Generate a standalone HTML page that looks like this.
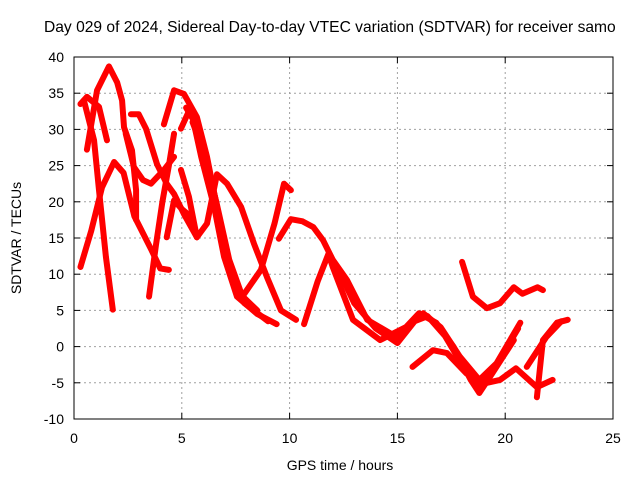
<!DOCTYPE html>
<html><head><meta charset="utf-8"><style>
body{margin:0;background:#fff}
svg{display:block;font-family:"Liberation Sans",sans-serif}
</style></head><body>
<svg id="chart" width="640" height="480" viewBox="0 0 640 480">
<text x="44" y="32" font-size="15.6" text-anchor="start">Day 029 of 2024, Sidereal Day-to-day VTEC variation (SDTVAR) for receiver samo</text>
<text x="340" y="470" font-size="14" text-anchor="middle">GPS time / hours</text>
<text x="0" y="0" font-size="14" text-anchor="middle" transform="translate(21,238) rotate(-90)">SDTVAR / TECUs</text>
<g id="grid"></g><g id="series"></g><g id="axes"></g>
</svg>
<script>
const xTicks=[0,5,10,15,20,25];
const yTicks=[-10,-5,0,5,10,15,20,25,30,35,40];
const s0=[[0.3,11],[0.8,16],[1.3,22],[1.86,25.5],[2.3,24],[2.8,18],[3.6,13.3],[4.0,10.8],[4.4,10.6]];
const s1=[[0.46,34],[0.93,28.5],[1.16,21.6],[1.48,12.4],[1.8,5.1]];
const s2=[[0.3,33.5],[0.6,34.5],[1.16,33.1],[1.53,28.5]];
const s3=[[0.6,27.2],[1.07,35.4],[1.62,38.7],[2.0,36.5],[2.23,34],[2.32,30.3],[2.69,27.1],[2.88,21.6],[2.88,17.5]];
const s4=[[2.64,32.1],[3.0,32.1],[3.34,30.1],[3.85,25.2],[4.3,22.5],[4.64,21.1],[5.1,18.3],[5.7,15.1]];
const s5=[[2.4,29.4],[2.78,24.8],[3.2,23],[3.57,22.5],[4.17,24.4],[4.64,26.2]];
const s6=[[3.48,6.9],[3.8,14],[4.1,20],[4.4,25],[4.64,29.4]];
const s7=[[4.3,15.1],[4.64,20.2],[5.0,19],[5.4,18],[5.7,15.1]];
const s8=[[4.17,30.7],[4.64,35.4],[5.1,34.9],[5.7,31.7],[6.17,26.2],[6.63,19.3],[7.1,12.4],[7.56,7.8],[8.35,5.1]];
const s9=[[4.96,30.1],[5.4,33],[5.9,26.2],[6.5,19.3],[6.96,12.4],[7.56,6.9],[8.5,4.5],[9.4,3.1]];
const s10=[[4.96,24.4],[5.33,20.7],[5.7,15.1],[6.17,17],[6.63,23.8],[7.1,22.5],[7.75,19.3],[8.35,14.2],[8.95,9.6],[9.6,5],[10.3,3.7]];
const s11=[[7.9,7.3],[8.67,10.6],[9.3,17],[9.74,22.5],[10.06,21.6]];
const s12=[[9.5,14.9],[10.06,17.6],[10.6,17.3],[11.1,16.5],[11.55,14.7],[12.0,12],[12.66,9.2],[13.6,3.7],[14.98,1.3],[16.2,4.6],[17,2.7],[17.9,-1.4],[18.8,-4.6],[19.6,-2.3],[20.7,3.3]];
const s13=[[10.67,3.1],[11.3,9],[11.8,12.8],[12.0,11],[12.94,3.7],[14.2,0.9],[15.4,2.7],[16.0,4.6],[16.8,3.3],[17.6,0],[18.4,-4.6],[18.8,-6.4],[19.4,-3.7],[20.4,0.9]];
const s14=[[15.7,-2.8],[16.65,-0.5],[17.3,-0.9],[18.2,-3.7],[19.0,-5.1],[19.76,-4.6],[20.5,-3],[21.47,-5.6],[22.2,-4.6]];
const s15=[[21.47,-7],[21.75,0.9],[22.4,3.3],[22.9,3.7]];
const s16=[[21,-2.8],[21.9,1.3],[22.6,3.5]];
const s17=[[18.0,11.7],[18.5,6.9],[19.15,5.3],[19.76,6],[20.4,8.2],[20.8,7.3],[21.5,8.2],[21.75,7.8]];
const s18=[[5.2,33],[5.8,30],[6.3,24],[6.8,17],[7.3,10],[7.9,6],[9.0,3.5]];
const s19=[[5.5,31],[6.0,27],[6.6,20],[7.2,12],[7.8,7],[8.5,5]];
const s20=[[12.2,11],[13.0,6],[14.0,2.5],[15.0,0.5],[15.8,3.5],[16.4,4.2],[17.2,1.5],[18.0,-2.5],[18.9,-5.5],[19.8,-1.5],[20.6,2.5]];
const allSeries=[s0,s1,s2,s3,s4,s5,s6,s7,s8,s9,s10,s11,s12,s13,s14,s15,s16,s17,s18,s19,s20];
const X0=74,X1=613,Y0=419,Y1=57;
const sx=v=>X0+(v-0)/(25-0)*(X1-X0);
const sy=v=>Y0-(v+10)/(40+10)*(Y0-Y1);
const NS="http://www.w3.org/2000/svg";
const grid=document.getElementById('grid'),axes=document.getElementById('axes'),ser=document.getElementById('series');
function mk(tag,at,parent){const e=document.createElementNS(NS,tag);for(const k in at)e.setAttribute(k,at[k]);parent.appendChild(e);return e;}
xTicks.forEach(t=>{
 const x=sx(t);
 if(t>0&&t<25){const g=mk('line',{x1:x,x2:x,y1:Y0,y2:Y1,stroke:'#a0a0a0','stroke-dasharray':'2,3'},grid);
 
 }
 const tl=mk('text',{x:x,y:Y0+24,'font-size':14,'text-anchor':'middle'},axes);tl.textContent=t;
 
 
 mk('line',{x1:x,x2:x,y1:Y0,y2:Y0-6,stroke:'#000'},axes);mk('line',{x1:x,x2:x,y1:Y1,y2:Y1+6,stroke:'#000'},axes);
});
yTicks.forEach(t=>{
 const y=sy(t);
 if(t>-10&&t<40){const g=mk('line',{x1:X0,x2:X1,y1:y,y2:y,stroke:'#a0a0a0','stroke-dasharray':'2,3'},grid);
 
 }
 const tl=mk('text',{x:X0-10,y:y+5,'font-size':14,'text-anchor':'end'},axes);tl.textContent=t;
 
 
 mk('line',{x1:X0,x2:X0+6,y1:y,y2:y,stroke:'#000'},axes);mk('line',{x1:X1,x2:X1-6,y1:y,y2:y,stroke:'#000'},axes);
});
const fr=mk('rect',{x:X0,y:Y1,width:X1-X0,height:Y0-Y1,fill:'none',stroke:'#000'},axes);


allSeries.forEach((s,i)=>{
 const p=mk('polyline',{points:s.map(d=>sx(d[0])+','+sy(d[1])).join(' '),fill:'none',stroke:'#ff0000','stroke-width':6,'stroke-linejoin':'round','stroke-linecap':'round'},ser);
 
 
});
</script>
</body></html>
